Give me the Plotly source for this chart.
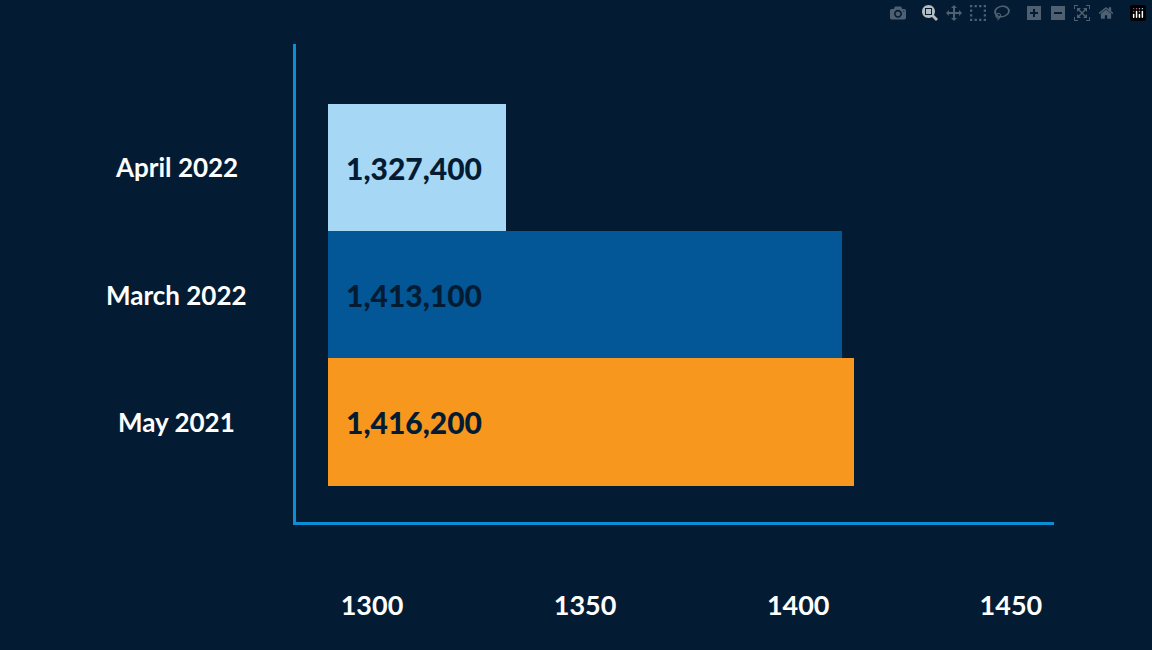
import plotly.graph_objects as go

categories = ["May 2021", "March 2022", "April 2022"]
values = [1416.2, 1413.1, 1327.4]
labels = ["1,416,200", "1,413,100", "1,327,400"]
colors = ["#f7971e", "#035797", "#a6d8f5"]
tick_labels = ["1300", "1350", "1400", "1450"]
tick_pos = [1293.2, 1347.6, 1402.0, 1456.3]
base = 1282

fig = go.Figure(go.Bar(
    y=categories, x=[v - base for v in values], base=base, orientation="h",
    marker=dict(color=colors, line=dict(width=0)),
    text=labels, texttemplate="\u2002%{text}", textposition="inside", insidetextanchor="start",
    textfont=dict(family="Lato", size=30, color="#041c33", weight=900),
    cliponaxis=False,
))
for c in categories:
    fig.add_annotation(x=-0.158, xref="paper", y=c, yref="y", text=f"<b>{c}</b>",
                       showarrow=False, xanchor="center",
                       font=dict(family="Lato", size=26, color="white"))
fig.update_layout(
    width=1152, height=650, paper_bgcolor="#041c33", plot_bgcolor="#041c33",
    margin=dict(l=296, r=98, t=44, b=128), bargap=0, showlegend=False,
    xaxis=dict(range=[1273.8, 1467.3], tickvals=tick_pos, ticktext=tick_labels,
               showgrid=False, zeroline=False, showline=True, linecolor="#0a8fd6",
               linewidth=3, ticks="", ticklabelstandoff=58,
               tickfont=dict(family="Lato", size=27, color="white", weight="bold")),
    yaxis=dict(categoryorder="array", categoryarray=categories, range=[-0.786, 2.97],
               showgrid=False, zeroline=False, showline=True, linecolor="#0a8fd6",
               linewidth=3, showticklabels=False, ticks=""),
)
fig.write_html("out.html")
with open("out.html", encoding="utf-8") as f:
    html = f.read()
html = html.replace("<head>", "<head><style>html,body{margin:0;padding:0;background:#041c33;}</style>", 1)
with open("out.html", "w", encoding="utf-8") as f:
    f.write(html)
